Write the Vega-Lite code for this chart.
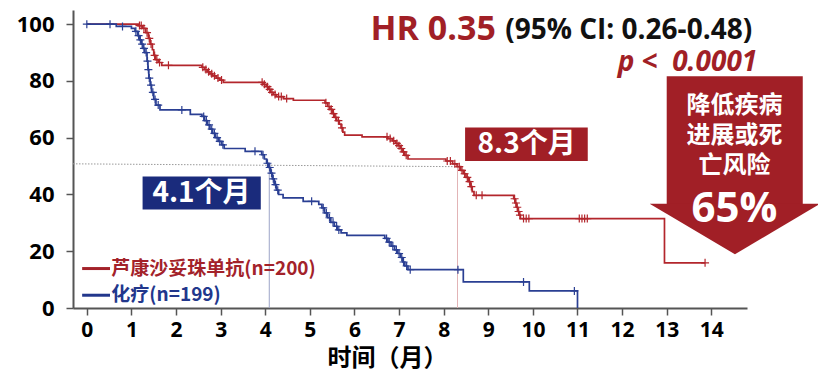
{
  "$schema": "https://vega.github.io/schema/vega-lite/v6.json",
  "width": 674,
  "height": 298,
  "autosize": "none",
  "padding": {"left": 73, "top": 10, "right": 71, "bottom": 64},
  "background": "white",
  "config": {"view": {"stroke": null}},
  "datasets": {
    "km": [
      {"g": "red", "t": 0, "s": 100}, {"g": "red", "t": 1.15, "s": 99.5}, {"g": "red", "t": 1.25, "s": 98.5}, {"g": "red", "t": 1.32, "s": 97}, {"g": "red", "t": 1.38, "s": 95}, {"g": "red", "t": 1.42, "s": 93}, {"g": "red", "t": 1.47, "s": 91}, {"g": "red", "t": 1.5, "s": 89}, {"g": "red", "t": 1.54, "s": 87.5}, {"g": "red", "t": 1.6, "s": 86.5}, {"g": "red", "t": 1.68, "s": 85.5},
      {"g": "red", "t": 2.58, "s": 84.8}, {"g": "red", "t": 2.64, "s": 84}, {"g": "red", "t": 2.7, "s": 83.2}, {"g": "red", "t": 2.76, "s": 82.5}, {"g": "red", "t": 2.82, "s": 81.8}, {"g": "red", "t": 2.9, "s": 81}, {"g": "red", "t": 2.98, "s": 80.3}, {"g": "red", "t": 3.06, "s": 79.5},
      {"g": "red", "t": 3.95, "s": 78.8}, {"g": "red", "t": 4.02, "s": 78}, {"g": "red", "t": 4.07, "s": 77}, {"g": "red", "t": 4.12, "s": 76}, {"g": "red", "t": 4.18, "s": 75.2}, {"g": "red", "t": 4.25, "s": 74.5}, {"g": "red", "t": 4.41, "s": 73.8}, {"g": "red", "t": 4.63, "s": 73.2},
      {"g": "red", "t": 5.34, "s": 72.3}, {"g": "red", "t": 5.4, "s": 71}, {"g": "red", "t": 5.45, "s": 70}, {"g": "red", "t": 5.5, "s": 68.5}, {"g": "red", "t": 5.55, "s": 67.2}, {"g": "red", "t": 5.6, "s": 66}, {"g": "red", "t": 5.66, "s": 64.8}, {"g": "red", "t": 5.7, "s": 63.5}, {"g": "red", "t": 5.74, "s": 62}, {"g": "red", "t": 5.78, "s": 60.9}, {"g": "red", "t": 6.17, "s": 60.3},
      {"g": "red", "t": 6.75, "s": 59.7}, {"g": "red", "t": 6.85, "s": 58.9}, {"g": "red", "t": 6.92, "s": 58}, {"g": "red", "t": 6.98, "s": 57.2}, {"g": "red", "t": 7.03, "s": 56.2}, {"g": "red", "t": 7.08, "s": 55}, {"g": "red", "t": 7.13, "s": 53.8}, {"g": "red", "t": 7.2, "s": 52.5},
      {"g": "red", "t": 8.05, "s": 51.8}, {"g": "red", "t": 8.2, "s": 50.8}, {"g": "red", "t": 8.3, "s": 49.8}, {"g": "red", "t": 8.38, "s": 48.5}, {"g": "red", "t": 8.44, "s": 47.3}, {"g": "red", "t": 8.5, "s": 46}, {"g": "red", "t": 8.55, "s": 44.5}, {"g": "red", "t": 8.6, "s": 42.8}, {"g": "red", "t": 8.64, "s": 41}, {"g": "red", "t": 8.68, "s": 39.7},
      {"g": "red", "t": 9.57, "s": 38.5}, {"g": "red", "t": 9.6, "s": 37}, {"g": "red", "t": 9.63, "s": 35.5}, {"g": "red", "t": 9.66, "s": 34}, {"g": "red", "t": 9.69, "s": 32.7}, {"g": "red", "t": 9.72, "s": 31.5}, {"g": "red", "t": 12.95, "s": 15.9}, {"g": "red", "t": 13.86, "s": 15.9},
      {"g": "blue", "t": 0, "s": 100}, {"g": "blue", "t": 0.66, "s": 99.2}, {"g": "blue", "t": 1.0, "s": 98.5}, {"g": "blue", "t": 1.08, "s": 97.5}, {"g": "blue", "t": 1.14, "s": 96}, {"g": "blue", "t": 1.18, "s": 94.5}, {"g": "blue", "t": 1.22, "s": 93}, {"g": "blue", "t": 1.26, "s": 91.5}, {"g": "blue", "t": 1.3, "s": 90}, {"g": "blue", "t": 1.35, "s": 87}, {"g": "blue", "t": 1.37, "s": 84}, {"g": "blue", "t": 1.39, "s": 81}, {"g": "blue", "t": 1.42, "s": 78.5}, {"g": "blue", "t": 1.45, "s": 76}, {"g": "blue", "t": 1.5, "s": 73.5}, {"g": "blue", "t": 1.55, "s": 71.5}, {"g": "blue", "t": 1.64, "s": 69.8},
      {"g": "blue", "t": 2.32, "s": 68.2}, {"g": "blue", "t": 2.58, "s": 67.5}, {"g": "blue", "t": 2.64, "s": 66}, {"g": "blue", "t": 2.7, "s": 64.5}, {"g": "blue", "t": 2.76, "s": 63}, {"g": "blue", "t": 2.82, "s": 61.5}, {"g": "blue", "t": 2.88, "s": 60}, {"g": "blue", "t": 2.95, "s": 58.7}, {"g": "blue", "t": 3.02, "s": 57.5}, {"g": "blue", "t": 3.08, "s": 56.2}, {"g": "blue", "t": 3.55, "s": 55.2},
      {"g": "blue", "t": 3.92, "s": 54}, {"g": "blue", "t": 3.98, "s": 52.5}, {"g": "blue", "t": 4.03, "s": 51}, {"g": "blue", "t": 4.08, "s": 49.5}, {"g": "blue", "t": 4.12, "s": 47.5}, {"g": "blue", "t": 4.16, "s": 45.5}, {"g": "blue", "t": 4.2, "s": 43.5}, {"g": "blue", "t": 4.25, "s": 41.5}, {"g": "blue", "t": 4.3, "s": 40}, {"g": "blue", "t": 4.4, "s": 38.8}, {"g": "blue", "t": 4.85, "s": 37.6},
      {"g": "blue", "t": 5.2, "s": 36.5}, {"g": "blue", "t": 5.27, "s": 35.3}, {"g": "blue", "t": 5.33, "s": 33.5}, {"g": "blue", "t": 5.4, "s": 31.8}, {"g": "blue", "t": 5.47, "s": 30.2}, {"g": "blue", "t": 5.55, "s": 28.8}, {"g": "blue", "t": 5.62, "s": 27.5}, {"g": "blue", "t": 5.7, "s": 26.5}, {"g": "blue", "t": 5.83, "s": 25.6},
      {"g": "blue", "t": 6.68, "s": 24.5}, {"g": "blue", "t": 6.75, "s": 23.2}, {"g": "blue", "t": 6.82, "s": 21.8}, {"g": "blue", "t": 6.9, "s": 20.5}, {"g": "blue", "t": 6.97, "s": 19.2}, {"g": "blue", "t": 7.03, "s": 17.8}, {"g": "blue", "t": 7.08, "s": 16.2}, {"g": "blue", "t": 7.13, "s": 14.8}, {"g": "blue", "t": 7.2, "s": 13.5},
      {"g": "blue", "t": 8.44, "s": 9.2}, {"g": "blue", "t": 9.92, "s": 6.0}, {"g": "blue", "t": 11.0, "s": 0}
    ],
    "censor": [
      {"g": "red", "t": 1.18, "s": 99.5}, {"g": "red", "t": 1.22, "s": 99.5}, {"g": "red", "t": 1.28, "s": 98.5}, {"g": "red", "t": 1.35, "s": 97}, {"g": "red", "t": 1.4, "s": 95}, {"g": "red", "t": 1.44, "s": 93}, {"g": "red", "t": 1.52, "s": 89}, {"g": "red", "t": 1.57, "s": 87.5}, {"g": "red", "t": 1.63, "s": 86.5}, {"g": "red", "t": 1.83, "s": 85.5},
      {"g": "red", "t": 2.6, "s": 84.8}, {"g": "red", "t": 2.67, "s": 84}, {"g": "red", "t": 2.73, "s": 83.2}, {"g": "red", "t": 2.8, "s": 82.5}, {"g": "red", "t": 2.86, "s": 81.8}, {"g": "red", "t": 2.94, "s": 81}, {"g": "red", "t": 3.02, "s": 80.3},
      {"g": "red", "t": 3.93, "s": 79.5}, {"g": "red", "t": 3.98, "s": 78.8}, {"g": "red", "t": 4.05, "s": 78}, {"g": "red", "t": 4.1, "s": 77}, {"g": "red", "t": 4.15, "s": 76}, {"g": "red", "t": 4.22, "s": 75.2}, {"g": "red", "t": 4.3, "s": 74.5}, {"g": "red", "t": 4.36, "s": 74.5}, {"g": "red", "t": 4.48, "s": 73.8},
      {"g": "red", "t": 5.36, "s": 72.3}, {"g": "red", "t": 5.43, "s": 71}, {"g": "red", "t": 5.48, "s": 70}, {"g": "red", "t": 5.53, "s": 68.5}, {"g": "red", "t": 5.58, "s": 67.2}, {"g": "red", "t": 5.64, "s": 66}, {"g": "red", "t": 5.72, "s": 63.5},
      {"g": "red", "t": 6.73, "s": 60.3}, {"g": "red", "t": 6.8, "s": 59.7}, {"g": "red", "t": 6.88, "s": 58.9}, {"g": "red", "t": 6.95, "s": 58}, {"g": "red", "t": 7.0, "s": 57.2}, {"g": "red", "t": 7.05, "s": 56.2}, {"g": "red", "t": 7.1, "s": 55}, {"g": "red", "t": 7.16, "s": 53.8},
      {"g": "red", "t": 8.08, "s": 51.8}, {"g": "red", "t": 8.15, "s": 51.8}, {"g": "red", "t": 8.25, "s": 50.8}, {"g": "red", "t": 8.35, "s": 49.8}, {"g": "red", "t": 8.41, "s": 48.5}, {"g": "red", "t": 8.47, "s": 47.3}, {"g": "red", "t": 8.53, "s": 46}, {"g": "red", "t": 8.58, "s": 44.5}, {"g": "red", "t": 8.62, "s": 42.8}, {"g": "red", "t": 8.73, "s": 39.7}, {"g": "red", "t": 8.86, "s": 39.7},
      {"g": "red", "t": 9.59, "s": 38.5}, {"g": "red", "t": 9.62, "s": 37}, {"g": "red", "t": 9.65, "s": 35.5}, {"g": "red", "t": 9.68, "s": 34}, {"g": "red", "t": 9.71, "s": 32.7}, {"g": "red", "t": 9.79, "s": 31.5}, {"g": "red", "t": 9.85, "s": 31.5}, {"g": "red", "t": 9.91, "s": 31.5},
      {"g": "red", "t": 11.04, "s": 31.5}, {"g": "red", "t": 11.1, "s": 31.5}, {"g": "red", "t": 11.16, "s": 31.5}, {"g": "red", "t": 11.22, "s": 31.5}, {"g": "red", "t": 13.86, "s": 15.9},
      {"g": "blue", "t": 0, "s": 100}, {"g": "blue", "t": 0.52, "s": 100}, {"g": "blue", "t": 0.8, "s": 99.2}, {"g": "blue", "t": 1.1, "s": 97.5}, {"g": "blue", "t": 1.16, "s": 96}, {"g": "blue", "t": 1.2, "s": 94.5}, {"g": "blue", "t": 1.24, "s": 93}, {"g": "blue", "t": 1.28, "s": 91.5}, {"g": "blue", "t": 1.33, "s": 90}, {"g": "blue", "t": 1.36, "s": 87}, {"g": "blue", "t": 1.38, "s": 84}, {"g": "blue", "t": 1.4, "s": 81}, {"g": "blue", "t": 1.44, "s": 78.5}, {"g": "blue", "t": 1.48, "s": 76}, {"g": "blue", "t": 1.53, "s": 73.5}, {"g": "blue", "t": 1.6, "s": 71.5},
      {"g": "blue", "t": 2.13, "s": 69.8}, {"g": "blue", "t": 2.62, "s": 67.5}, {"g": "blue", "t": 2.68, "s": 66}, {"g": "blue", "t": 2.74, "s": 64.5}, {"g": "blue", "t": 2.8, "s": 63}, {"g": "blue", "t": 2.86, "s": 61.5}, {"g": "blue", "t": 2.92, "s": 60}, {"g": "blue", "t": 2.98, "s": 58.7}, {"g": "blue", "t": 3.05, "s": 57.5},
      {"g": "blue", "t": 3.77, "s": 55.2}, {"g": "blue", "t": 3.95, "s": 54}, {"g": "blue", "t": 4.05, "s": 51}, {"g": "blue", "t": 4.1, "s": 49.5}, {"g": "blue", "t": 4.14, "s": 47.5}, {"g": "blue", "t": 4.18, "s": 45.5}, {"g": "blue", "t": 4.23, "s": 43.5}, {"g": "blue", "t": 4.28, "s": 41.5},
      {"g": "blue", "t": 5.04, "s": 37.6}, {"g": "blue", "t": 5.3, "s": 35.3}, {"g": "blue", "t": 5.37, "s": 33.5}, {"g": "blue", "t": 5.44, "s": 31.8}, {"g": "blue", "t": 5.52, "s": 30.2}, {"g": "blue", "t": 5.6, "s": 28.8}, {"g": "blue", "t": 5.65, "s": 27.5},
      {"g": "blue", "t": 6.72, "s": 24.5}, {"g": "blue", "t": 6.78, "s": 23.2}, {"g": "blue", "t": 6.86, "s": 21.8}, {"g": "blue", "t": 6.94, "s": 20.5}, {"g": "blue", "t": 7.0, "s": 19.2}, {"g": "blue", "t": 7.06, "s": 17.8}, {"g": "blue", "t": 7.1, "s": 16.2}, {"g": "blue", "t": 7.17, "s": 14.8}, {"g": "blue", "t": 7.25, "s": 13.5},
      {"g": "blue", "t": 8.32, "s": 13.5}, {"g": "blue", "t": 9.79, "s": 9.2}, {"g": "blue", "t": 10.93, "s": 6.0}
    ],
    "one": [{}]
  },
  "encoding": {
    "x": {"type": "quantitative", "scale": {"domain": [-0.31, 14.8], "nice": false, "zero": false},
      "axis": {"values": [0,1,2,3,4,5,6,7,8,9,10,11,12,13,14], "grid": false, "title": "时间（月）", "titleFont": "Noto Sans CJK SC", "titleFontSize": 24, "titleFontWeight": "bold", "titleColor": "#000000", "titleX": 314, "titleY": 50, "titleBaseline": "middle", "titleAlign": "center",
        "labelFont": "Open Sans", "labelFontSize": 21, "labelFontWeight": "bold", "labelColor": "#000000", "labelPadding": 4, "labelFlush": false, "labelOverlap": false,
        "tickSize": 7, "tickColor": "#555555", "tickWidth": 1.5, "domainColor": "#555555", "domainWidth": 2}},
    "y": {"type": "quantitative", "scale": {"domain": [0, 105], "nice": false, "zero": false},
      "axis": {"values": [0,20,40,60,80,100], "grid": false, "title": null,
        "labelFont": "Open Sans", "labelFontSize": 22, "labelFontWeight": "bold", "labelColor": "#000000", "labelPadding": 12, "labelFlush": false, "labelOverlap": false,
        "tickSize": 7, "tickColor": "#555555", "tickWidth": 1.5, "domainColor": "#555555", "domainWidth": 2}}
  },
  "layer": [
    {
      "data": {"name": "one"},
      "mark": {"type": "rule", "color": "#9a9a9a", "strokeWidth": 1, "strokeDash": [1.5, 1.5]},
      "encoding": {"x": {"datum": -0.31}, "x2": {"datum": 8.3}, "y": {"datum": 50.8}, "y2": {"datum": 49.8}}
    },
    {
      "data": {"name": "one"},
      "mark": {"type": "rule", "color": "#9CA4C8", "strokeWidth": 1},
      "encoding": {"x": {"datum": 4.09}, "y": {"datum": 0}, "y2": {"datum": 50.4}}
    },
    {
      "data": {"name": "one"},
      "mark": {"type": "rule", "color": "#E2B4B6", "strokeWidth": 1},
      "encoding": {"x": {"datum": 8.31}, "y": {"datum": 0}, "y2": {"datum": 49.8}}
    },
    {
      "data": {"name": "km"},
      "mark": {"type": "line", "interpolate": "step-after", "strokeWidth": 1.7},
      "encoding": {
        "x": {"field": "t"},
        "y": {"field": "s"},
        "color": {"field": "g", "type": "nominal", "scale": {"domain": ["red", "blue"], "range": ["#B3262C", "#2A3F93"]}, "legend": null},
        "detail": {"field": "g"}
      }
    },
    {
      "data": {"name": "censor"},
      "mark": {"type": "point", "shape": "M-1,0L1,0M0,-1L0,1", "filled": false, "size": 64, "strokeWidth": 1.2, "opacity": 1},
      "encoding": {
        "x": {"field": "t"},
        "y": {"field": "s"},
        "color": {"field": "g", "type": "nominal", "scale": {"domain": ["red", "blue"], "range": ["#B3262C", "#2A3F93"]}, "legend": null}
      }
    },
    {
      "data": {"name": "one"},
      "mark": {"type": "rect", "color": "#A11F26"},
      "encoding": {"x": {"datum": 8.48}, "x2": {"datum": 11.23}, "y": {"datum": 63.6}, "y2": {"datum": 51.8}}
    },
    {
      "data": {"name": "one"},
      "mark": {"type": "text", "text": "8.3个月", "font": "Noto Sans CJK SC", "fontWeight": "bold", "fontSize": 28, "color": "white", "align": "center", "baseline": "middle"},
      "encoding": {"x": {"datum": 9.86}, "y": {"datum": 57.5}}
    },
    {
      "data": {"name": "one"},
      "mark": {"type": "rect", "color": "#1A2B7C"},
      "encoding": {"x": {"datum": 1.25}, "x2": {"datum": 3.9}, "y": {"datum": 46.3}, "y2": {"datum": 34.7}}
    },
    {
      "data": {"name": "one"},
      "mark": {"type": "text", "text": "4.1个月", "font": "Noto Sans CJK SC", "fontWeight": "bold", "fontSize": 28, "color": "white", "align": "center", "baseline": "middle"},
      "encoding": {"x": {"datum": 2.57}, "y": {"datum": 40.3}}
    },
    {
      "data": {"name": "one"},
      "mark": {"type": "rect", "color": "#A11F26"},
      "encoding": {"x": {"datum": 13.0}, "x2": {"datum": 16.05}, "y": {"datum": 81.7}, "y2": {"datum": 36.0}}
    },
    {
      "data": {"name": "one"},
      "mark": {"type": "point", "shape": "M-1,-0.297L1,-0.297L0,0.297Z", "filled": true, "size": 29104, "color": "#A11F26", "opacity": 1, "strokeWidth": 0},
      "encoding": {"x": {"datum": 14.53}, "y": {"datum": 27.85}}
    },
    {
      "data": {"name": "one"},
      "mark": {"type": "text", "text": ["降低疾病", "进展或死", "亡风险"], "font": "Noto Sans CJK SC", "fontWeight": "bold", "fontSize": 24, "lineHeight": 30, "color": "white", "align": "center", "baseline": "middle"},
      "encoding": {"x": {"datum": 14.52}, "y": {"datum": 71.0}}
    },
    {
      "data": {"name": "one"},
      "mark": {"type": "text", "text": "65%", "font": "Open Sans", "fontWeight": "bold", "fontSize": 42, "color": "white", "align": "center", "baseline": "middle"},
      "encoding": {"x": {"datum": 14.52}, "y": {"datum": 35.0}}
    },
    {
      "data": {"name": "one"},
      "mark": {"type": "text", "text": "HR 0.35", "font": "Open Sans", "fontWeight": "bold", "fontSize": 34, "color": "#A11F26", "align": "left", "baseline": "alphabetic"},
      "encoding": {"x": {"datum": 6.36}, "y": {"datum": 94.4}}
    },
    {
      "data": {"name": "one"},
      "mark": {"type": "text", "text": "(95% CI: 0.26-0.48)", "font": "Open Sans", "fontWeight": "bold", "fontSize": 28, "color": "#111111", "align": "left", "baseline": "alphabetic"},
      "encoding": {"x": {"datum": 9.38}, "y": {"datum": 94.7}}
    },
    {
      "data": {"name": "one"},
      "mark": {"type": "text", "text": "p <\u00a0\u00a00.0001", "font": "Open Sans", "fontWeight": "bold", "fontStyle": "italic", "fontSize": 28, "color": "#A11F26", "align": "right", "baseline": "alphabetic"},
      "encoding": {"x": {"datum": 15.03}, "y": {"datum": 83.6}}
    },
    {
      "data": {"name": "one"},
      "mark": {"type": "rule", "color": "#A3222A", "strokeWidth": 3},
      "encoding": {"x": {"datum": -0.105}, "x2": {"datum": 0.52}, "y": {"datum": 13.9}}
    },
    {
      "data": {"name": "one"},
      "mark": {"type": "text", "text": "芦康沙妥珠单抗(n=200)", "font": "Noto Sans CJK SC", "fontWeight": "bold", "fontSize": 19, "color": "#A3222A", "align": "left", "baseline": "middle"},
      "encoding": {"x": {"datum": 0.55}, "y": {"datum": 13.9}}
    },
    {
      "data": {"name": "one"},
      "mark": {"type": "rule", "color": "#22378C", "strokeWidth": 3},
      "encoding": {"x": {"datum": -0.105}, "x2": {"datum": 0.52}, "y": {"datum": 4.5}}
    },
    {
      "data": {"name": "one"},
      "mark": {"type": "text", "text": "化疗(n=199)", "font": "Noto Sans CJK SC", "fontWeight": "bold", "fontSize": 19, "color": "#22378C", "align": "left", "baseline": "middle"},
      "encoding": {"x": {"datum": 0.55}, "y": {"datum": 4.5}}
    }
  ]
}
